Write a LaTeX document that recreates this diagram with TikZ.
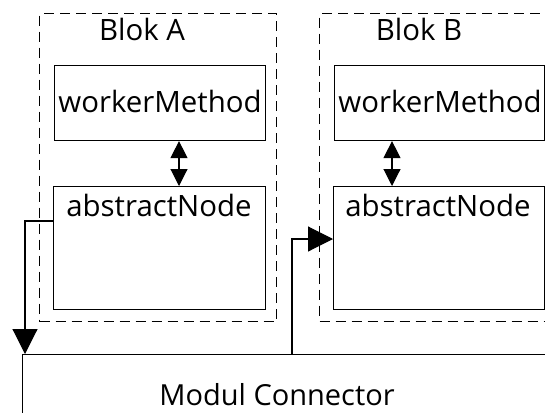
\documentclass[tikz,border=0pt]{standalone}
\usepackage{fontspec}
\setmainfont{Open Sans}
\usetikzlibrary{arrows.meta}
\begin{document}
\begin{tikzpicture}[x=1pt,y=-1pt,
  box/.style={draw,line width=1.1pt,inner sep=0pt,anchor=north west},
  blok/.style={draw,dash pattern=on 10pt off 6pt,line width=1.1pt,inner sep=0pt,anchor=north west},
  txt/.style={anchor=base,inner sep=0pt,font=\fontsize{29.4}{32}\selectfont,text=black},
  conn/.style={line width=1.1pt},
  big/.style={-{Triangle[length=25pt,width=25pt]}},
  dbl/.style={{Triangle[length=17pt,width=17pt]}-{Triangle[length=17pt,width=17pt]}}]
\useasboundingbox (0,0) rectangle (545,412);
% blocks
\node[blok,minimum width=237pt,minimum height=308pt] (blkA) at (39,13) {};
\node[blok,minimum width=260pt,minimum height=308pt] (blkB) at (319,13) {};
% boxes
\node[box,minimum width=211pt,minimum height=75pt] (wA) at (54,65) {};
\node[box,minimum width=210pt,minimum height=75pt] (wB) at (334,65) {};
\node[box,minimum width=212pt,minimum height=123pt] (aA) at (53,186) {};
\node[box,minimum width=211pt,minimum height=123pt] (aB) at (333,186) {};
\node[box,minimum width=560pt,minimum height=80pt] (mod) at (22,354) {};
% texts
\node[txt] (tA) at (142,41) {Blok A};
\node[txt] (tB) at (419,41) {Blok B};
\node[txt] (twA) at (160,112) {workerMethod};
\node[txt] (twB) at (440,112) {workerMethod};
\node[txt] (taA) at (159,216) {abstractNode};
\node[txt] (taB) at (438,216) {abstractNode};
\node[txt,font=\fontsize{29}{32}\selectfont] (tmod) at (277,405) {Modul Connector};
% connectors
\draw[conn,dbl] (wA.south -| 179,0) -- (aA.north -| 179,0);
\draw[conn,dbl] (wB.south -| 392,0) -- (aB.north -| 392,0);
\coordinate (pA) at (25,221);
\draw[conn,big] (aA.west |- pA) -- (pA) -- (pA |- mod.north);
\coordinate (pB) at (292,239);
\draw[conn,big] (pB |- mod.north) -- (pB) -- (aB.west |- pB);
\end{tikzpicture}
\end{document}
